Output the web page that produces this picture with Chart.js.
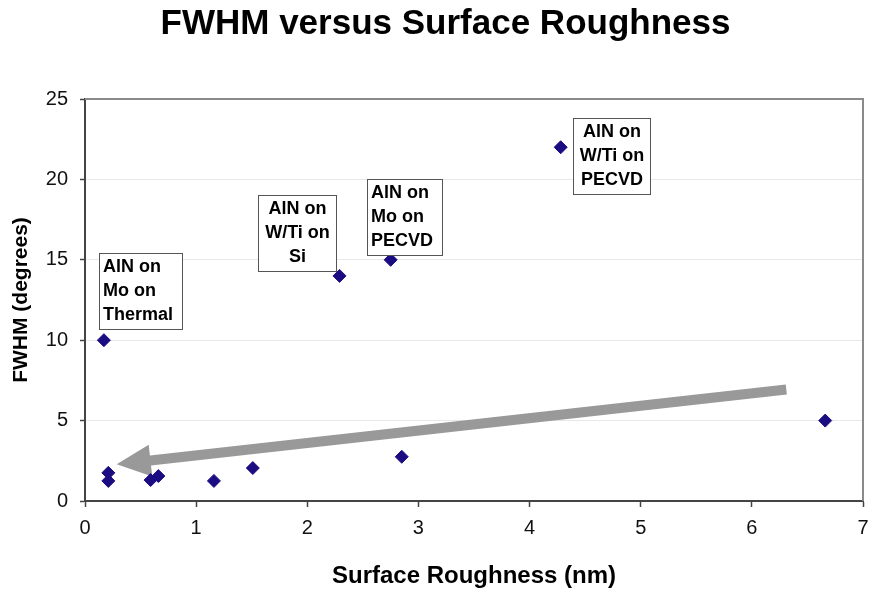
<!DOCTYPE html>
<html>
<head>
<meta charset="utf-8">
<title>FWHM versus Surface Roughness</title>
<script src="https://cdn.jsdelivr.net/npm/chart.js@4.4.1/dist/chart.umd.min.js"></script>
<style>
  html, body { margin: 0; padding: 0; background: #ffffff; }
  #wrap { width: 869px; height: 593px; }
</style>
</head>
<body>
<div id="wrap"><canvas id="chart" width="869" height="593"></canvas></div>
<script>
// Measured samples: surface roughness (nm) and rocking-curve FWHM (degrees)
const roughness = [0.17, 0.21, 0.21, 0.59, 0.66, 1.16, 1.51, 2.29, 2.75, 2.85, 4.28, 6.66];
const fwhm      = [10,   1.75, 1.25, 1.30, 1.55, 1.25, 2.05, 14,   15,   2.75, 22,   5];

// Axis ticks
const xTicks = [0, 1, 2, 3, 4, 5, 6, 7];
const yTicks = [0, 5, 10, 15, 20, 25];

// Callout texts for the labelled film stacks
const calloutText = [
  ['AlN on', 'Mo on', 'Thermal'],
  ['AlN on', 'W/Ti on', 'Si'],
  ['AlN on', 'Mo on', 'PECVD'],
  ['AlN on', 'W/Ti on', 'PECVD']
];

// Callout placement (top-left corner in data units, box width in px, text alignment)
const calloutLayout = [
  { x: 0.126, y: 15.42, w: 83, align: 'left' },
  { x: 1.557, y: 19.03, w: 78, align: 'center' },
  { x: 2.538, y: 20.02, w: 75, align: 'left' },
  { x: 4.392, y: 23.82, w: 77, align: 'center' }
];

// Trend arrow, from tail to tip, in data units
const arrowTail = { x: 6.31, y: 6.93 };
const arrowTip  = { x: 0.285, y: 2.28 };

const FONT = "'Liberation Sans', Arial, Helvetica, sans-serif";
const NO_PADDING = () => ({ left: 0, top: 0, right: 0, bottom: 0 });

// Keep the chart title centred a little right of the canvas middle
const titleOffset = {
  id: 'titleOffset',
  afterLayout(chart) {
    if (chart.titleBlock) chart.titleBlock.left += 28;
  }
};

// Gray frame on the top and right edges of the plot area
const plotFrame = {
  id: 'plotFrame',
  beforeDatasetsDraw(chart) {
    const { ctx, chartArea: a } = chart;
    ctx.save();
    ctx.strokeStyle = '#8a8a8a';
    ctx.lineWidth = 2;
    ctx.beginPath();
    ctx.moveTo(a.left, a.top);
    ctx.lineTo(a.right, a.top);
    ctx.lineTo(a.right, a.bottom);
    ctx.stroke();
    ctx.restore();
  }
};

// Thick gray arrow pointing toward the low-roughness cluster
const trendArrow = {
  id: 'trendArrow',
  beforeDatasetsDraw(chart) {
    const { ctx, scales: { x, y } } = chart;
    const x0 = x.getPixelForValue(arrowTail.x), y0 = y.getPixelForValue(arrowTail.y);
    const x1 = x.getPixelForValue(arrowTip.x),  y1 = y.getPixelForValue(arrowTip.y);
    const len = Math.hypot(x1 - x0, y1 - y0);
    const ux = (x1 - x0) / len, uy = (y1 - y0) / len;
    const px = -uy, py = ux;
    const shaft = 5, headLen = 34, headHalf = 16;
    const bx = x1 - ux * headLen, by = y1 - uy * headLen;
    ctx.save();
    ctx.fillStyle = '#999999';
    ctx.beginPath();
    ctx.moveTo(x0 + px * shaft, y0 + py * shaft);
    ctx.lineTo(bx + px * shaft, by + py * shaft);
    ctx.lineTo(bx + px * headHalf, by + py * headHalf);
    ctx.lineTo(x1, y1);
    ctx.lineTo(bx - px * headHalf, by - py * headHalf);
    ctx.lineTo(bx - px * shaft, by - py * shaft);
    ctx.lineTo(x0 - px * shaft, y0 - py * shaft);
    ctx.closePath();
    ctx.fill();
    ctx.restore();
  }
};

// Boxed text callouts
const callouts = {
  id: 'callouts',
  afterDatasetsDraw(chart) {
    const { ctx, scales: { x, y } } = chart;
    const lineH = 24;
    ctx.save();
    ctx.font = 'bold 18px ' + FONT;
    ctx.textBaseline = 'middle';
    calloutText.forEach((lines, i) => {
      const L = calloutLayout[i];
      const left = Math.round(x.getPixelForValue(L.x)) + 0.5;
      const top = Math.round(y.getPixelForValue(L.y)) + 0.5;
      const h = lines.length * lineH + 4;
      ctx.fillStyle = '#ffffff';
      ctx.fillRect(left, top, L.w, h);
      ctx.strokeStyle = '#555555';
      ctx.lineWidth = 1;
      ctx.strokeRect(left, top, L.w, h);
      ctx.fillStyle = '#000000';
      ctx.textAlign = L.align;
      const tx = L.align === 'center' ? left + L.w / 2 : left + 3.5;
      lines.forEach((t, k) => ctx.fillText(t, tx, top + 14 + k * lineH));
    });
    ctx.restore();
  }
};

const points = roughness.map((r, i) => ({ x: r, y: fwhm[i] }));

new Chart(document.getElementById('chart'), {
  type: 'scatter',
  data: {
    datasets: [{
      data: points,
      pointStyle: 'rectRot',
      pointRadius: 6.5,
      pointHoverRadius: 6.5,
      backgroundColor: '#1b0c82',
      borderColor: '#1b0c82',
      borderWidth: 1
    }]
  },
  options: {
    responsive: false,
    animation: false,
    devicePixelRatio: 1,
    layout: { autoPadding: false, padding: { left: 0, right: 6, top: 0, bottom: 0 } },
    plugins: {
      legend: { display: false },
      tooltip: { enabled: false },
      title: {
        display: true,
        text: 'FWHM versus Surface Roughness',
        color: '#000000',
        font: { family: FONT, size: 35, weight: 'bold' },
        padding: { top: 3, bottom: 54 }
      }
    },
    scales: {
      x: {
        type: 'linear',
        min: xTicks[0],
        max: xTicks[xTicks.length - 1],
        afterBuildTicks(scale) { scale.ticks = xTicks.map(v => ({ value: v })); },
        afterFit(scale) {
          scale.height = 92;
          scale.paddingLeft = 0; scale.paddingRight = 0;
          scale.getPadding = NO_PADDING;
        },
        border: { display: true, color: '#444444', width: 2 },
        grid: { drawOnChartArea: false, drawTicks: true, tickLength: 6, tickColor: '#444444', tickWidth: 1.5 },
        ticks: { color: '#111111', font: { family: FONT, size: 20 }, padding: 9, maxRotation: 0 },
        title: {
          display: true,
          text: 'Surface Roughness (nm)',
          color: '#000000',
          font: { family: FONT, size: 24, weight: 'bold' },
          padding: { top: 0, bottom: 2 }
        }
      },
      y: {
        type: 'linear',
        min: yTicks[0],
        max: yTicks[yTicks.length - 1],
        afterBuildTicks(scale) { scale.ticks = yTicks.map(v => ({ value: v })); },
        afterFit(scale) {
          scale.width = 85;
          scale.paddingTop = 0; scale.paddingBottom = 0;
          scale.getPadding = NO_PADDING;
        },
        border: { display: true, color: '#444444', width: 2 },
        grid: {
          color: (c) => (c.tick && (c.tick.value === 0 || c.tick.value === 25)) ? 'rgba(0,0,0,0)' : '#e8e8e8',
          lineWidth: 1,
          drawTicks: true,
          tickLength: 5,
          tickColor: '#444444',
          tickWidth: 1.5
        },
        ticks: { color: '#111111', font: { family: FONT, size: 20 }, padding: 12 },
        title: {
          display: true,
          text: 'FWHM (degrees)',
          color: '#000000',
          font: { family: FONT, size: 21, weight: 'bold' },
          padding: { top: 9, bottom: 0 }
        }
      }
    }
  },
  plugins: [titleOffset, plotFrame, trendArrow, callouts]
});
</script>
</body>
</html>
